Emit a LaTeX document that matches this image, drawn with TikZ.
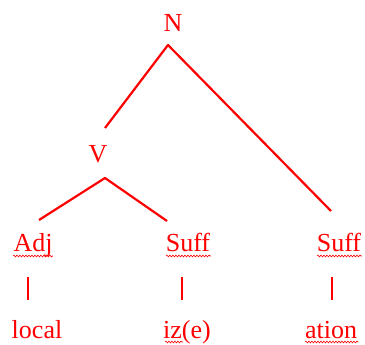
\documentclass[tikz,border=0pt]{standalone}
\usepackage{fontspec}
\setmainfont{Liberation Serif}
\usetikzlibrary{decorations.pathmorphing}
\definecolor{tred}{RGB}{255,0,0}
\begin{document}
\begin{tikzpicture}[x=1pt,y=-1pt,
  lbl/.style={inner sep=0pt,anchor=base,text=tred,font=\fontsize{26}{31}\selectfont},
  branch/.style={draw=tred,line width=2.2pt},
  squig/.style={draw=tred,line width=0.6pt,decorate,decoration={snake,amplitude=0.9pt,segment length=3pt}}]
\useasboundingbox (0,0) rectangle (365,345);
% labels
\node[lbl] (N) at (173,32) {N};
\node[lbl] (V) at (98,163) {V};
\node[lbl] (Adj) at (33,252) {Adj};
\node[lbl] (S1) at (188,252) {Suff};
\node[lbl] (S2) at (339,252) {Suff};
\node[lbl] (local) at (37,338) {local};
\node[lbl] (ize) at (187,338) {iz(e)};
\node[lbl] (ation) at (331,338) {ation};
% branch points
\coordinate (Ntop) at (168,45);
\coordinate (Vend) at (105,128);
\coordinate (S2end) at (331,211);
\coordinate (Vtop) at (105,178);
\coordinate (Adjend) at (39,220);
\coordinate (S1end) at (167,221);
\coordinate (t1a) at (28,277); \coordinate (t1b) at (28,300);
\coordinate (t2a) at (182,277); \coordinate (t2b) at (182,300);
\coordinate (t3a) at (332,277); \coordinate (t3b) at (332,300);
\draw[branch,line join=round] (Vend) -- (Ntop) -- (S2end);
\draw[branch,line join=round] (Adjend) -- (Vtop) -- (S1end);
\draw[branch] (t1a) -- (t1b);
\draw[branch] (t2a) -- (t2b);
\draw[branch] (t3a) -- (t3b);
% spell-check squiggles
\draw[squig] (13,256) -- (53,256);
\draw[squig] (166,256) -- (211,256);
\draw[squig] (317,256) -- (362,256);
\draw[squig] (165,342) -- (183,342);
\draw[squig] (305,342) -- (358,342);
\end{tikzpicture}
\end{document}
